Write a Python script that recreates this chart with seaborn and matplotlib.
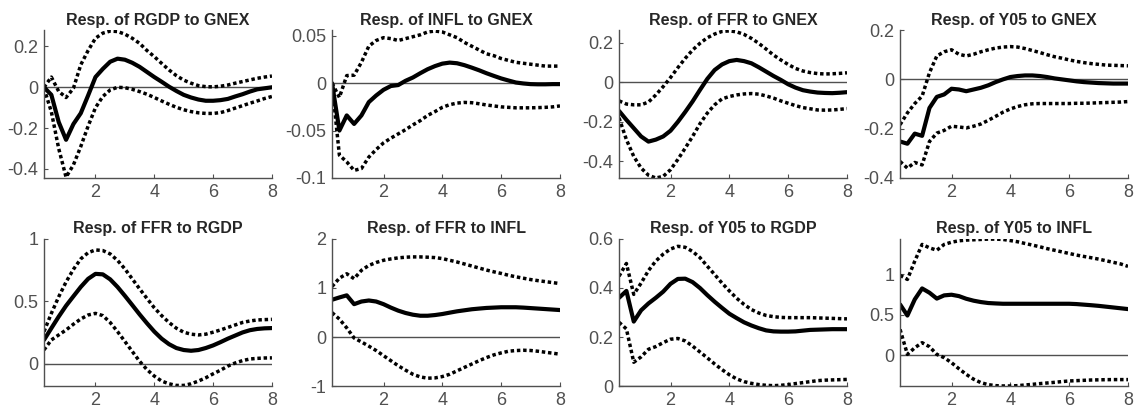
import matplotlib
matplotlib.use("Agg")
import matplotlib.pyplot as plt
import numpy as np
import seaborn as sns

# horizons in years (quarterly steps, 32 quarters)
quarters = np.arange(1, 33)
horizon = quarters / 4

titles = ["Resp. of RGDP to GNEX", "Resp. of INFL to GNEX", "Resp. of FFR to GNEX", "Resp. of Y05 to GNEX",
          "Resp. of FFR to RGDP", "Resp. of FFR to INFL", "Resp. of Y05 to RGDP", "Resp. of Y05 to INFL"]

rgdp_gnex = [0.0, -0.037, -0.17, -0.257, -0.18, -0.127, -0.04, 0.05, 0.09, 0.125,
             0.14, 0.135, 0.12, 0.10, 0.075, 0.05, 0.027, 0.003, -0.018, -0.037,
             -0.05, -0.06, -0.066, -0.066, -0.063, -0.057, -0.045, -0.034, -0.021, -0.01,
             -0.005, 0.0]
rgdp_gnex_hi = [0.0, 0.05, -0.02, -0.05, -0.005, 0.11, 0.18, 0.24, 0.265, 0.275,
                0.273, 0.26, 0.24, 0.215, 0.18, 0.15, 0.117, 0.085, 0.057, 0.035,
                0.02, 0.008, 0.003, 0.002, 0.005, 0.011, 0.02, 0.028, 0.036, 0.044,
                0.05, 0.055]
rgdp_gnex_lo = [-0.005, -0.12, -0.30, -0.44, -0.38, -0.29, -0.19, -0.10, -0.045, -0.013,
                0.0, -0.002, -0.01, -0.021, -0.034, -0.05, -0.067, -0.083, -0.098, -0.11,
                -0.119, -0.125, -0.128, -0.128, -0.124, -0.114, -0.102, -0.09, -0.078, -0.067,
                -0.055, -0.045]

infl_gnex = [0.0, -0.05, -0.034, -0.043, -0.034, -0.02, -0.013, -0.007, -0.003, -0.002,
             0.0025, 0.006, 0.0105, 0.0147, 0.018, 0.0206, 0.0217, 0.021, 0.019, 0.0164,
             0.0136, 0.0105, 0.0077, 0.005, 0.0028, 0.0007, -0.0003, -0.001, -0.0012, -0.0012,
             -0.001, -0.001]
infl_gnex_hi = [0.0, -0.015, 0.008, 0.0084, 0.022, 0.039, 0.045, 0.048, 0.047, 0.045,
                0.047, 0.049, 0.051, 0.054, 0.055, 0.054, 0.051, 0.048, 0.043, 0.039,
                0.035, 0.031, 0.029, 0.026, 0.024, 0.022, 0.021, 0.020, 0.019, 0.018,
                0.018, 0.018]
infl_gnex_lo = [-0.001, -0.076, -0.083, -0.092, -0.09, -0.078, -0.07, -0.063, -0.058, -0.0535,
                -0.049, -0.044, -0.0395, -0.034, -0.03, -0.0255, -0.0227, -0.021, -0.0203, -0.0206,
                -0.0217, -0.023, -0.024, -0.025, -0.0255, -0.026, -0.026, -0.026, -0.0258, -0.0255,
                -0.025, -0.024]

ffr_gnex = [-0.145, -0.19, -0.232, -0.274, -0.30, -0.29, -0.274, -0.245, -0.2, -0.15,
            -0.097, -0.039, 0.017, 0.062, 0.09, 0.107, 0.113, 0.107, 0.096, 0.076,
            0.054, 0.032, 0.012, -0.01, -0.027, -0.04, -0.047, -0.052, -0.054, -0.055,
            -0.053, -0.05]
ffr_gnex_hi = [-0.094, -0.11, -0.114, -0.114, -0.1, -0.064, -0.022, 0.024, 0.074, 0.121,
               0.163, 0.197, 0.225, 0.244, 0.257, 0.26, 0.255, 0.242, 0.222, 0.197,
               0.168, 0.138, 0.113, 0.09, 0.07, 0.057, 0.049, 0.044, 0.042, 0.043,
               0.045, 0.048]
ffr_gnex_lo = [-0.18, -0.29, -0.375, -0.434, -0.47, -0.484, -0.476, -0.442, -0.39, -0.333,
               -0.274, -0.21, -0.156, -0.114, -0.084, -0.072, -0.064, -0.059, -0.057, -0.06,
               -0.069, -0.08, -0.094, -0.106, -0.118, -0.128, -0.134, -0.14, -0.141, -0.14,
               -0.137, -0.133]

y05_gnex = [-0.252, -0.261, -0.22, -0.229, -0.116, -0.071, -0.061, -0.038, -0.041, -0.048,
            -0.041, -0.034, -0.024, -0.011, 0.0, 0.0095, 0.0136, 0.016, 0.016, 0.0136,
            0.0095, 0.004, 0.0, -0.004, -0.008, -0.011, -0.013, -0.015, -0.016, -0.017,
            -0.017, -0.017]
y05_gnex_hi = [-0.184, -0.136, -0.098, -0.068, 0.027, 0.095, 0.112, 0.12, 0.102, 0.095,
               0.102, 0.112, 0.12, 0.127, 0.131, 0.133, 0.131, 0.125, 0.117, 0.109,
               0.1, 0.092, 0.086, 0.079, 0.073, 0.068, 0.064, 0.061, 0.058, 0.057,
               0.056, 0.055]
y05_gnex_lo = [-0.333, -0.36, -0.337, -0.347, -0.252, -0.218, -0.207, -0.19, -0.193, -0.197,
               -0.19, -0.181, -0.166, -0.15, -0.133, -0.12, -0.11, -0.103, -0.099, -0.098,
               -0.098, -0.098, -0.098, -0.098, -0.097, -0.097, -0.096, -0.095, -0.094, -0.093,
               -0.092, -0.09]

ffr_rgdp = [0.19, 0.284, 0.377, 0.464, 0.54, 0.615, 0.68, 0.72, 0.716, 0.676,
            0.615, 0.544, 0.47, 0.395, 0.324, 0.257, 0.2, 0.156, 0.125, 0.109,
            0.103, 0.109, 0.125, 0.146, 0.172, 0.2, 0.225, 0.25, 0.268, 0.278,
            0.283, 0.285]
ffr_rgdp_hi = [0.257, 0.403, 0.536, 0.655, 0.756, 0.84, 0.89, 0.912, 0.907, 0.88,
               0.828, 0.76, 0.68, 0.6, 0.523, 0.448, 0.385, 0.33, 0.284, 0.252,
               0.236, 0.23, 0.236, 0.252, 0.27, 0.29, 0.31, 0.33, 0.342, 0.35,
               0.353, 0.355]
ffr_rgdp_lo = [0.11, 0.19, 0.23, 0.27, 0.316, 0.358, 0.39, 0.403, 0.385, 0.33,
               0.257, 0.178, 0.098, 0.019, -0.048, -0.1, -0.14, -0.162, -0.175, -0.175,
               -0.162, -0.14, -0.114, -0.082, -0.053, -0.02, 0.005, 0.024, 0.037, 0.042,
               0.045, 0.046]

ffr_infl = [0.76, 0.807, 0.85, 0.67, 0.724, 0.745, 0.724, 0.67, 0.6, 0.538,
            0.49, 0.455, 0.434, 0.434, 0.448, 0.469, 0.497, 0.524, 0.545, 0.566,
            0.58, 0.593, 0.6, 0.607, 0.607, 0.607, 0.6, 0.59, 0.58, 0.57,
            0.56, 0.55]
ffr_infl_hi = [1.03, 1.2, 1.29, 1.19, 1.36, 1.46, 1.52, 1.565, 1.593, 1.614,
               1.628, 1.634, 1.634, 1.628, 1.62, 1.6, 1.565, 1.53, 1.49, 1.448,
               1.407, 1.366, 1.33, 1.297, 1.26, 1.228, 1.2, 1.172, 1.15, 1.13,
               1.11, 1.09]
ffr_infl_lo = [0.497, 0.366, 0.186, -0.02, -0.1, -0.186, -0.276, -0.38, -0.483, -0.586,
               -0.676, -0.76, -0.814, -0.84, -0.834, -0.807, -0.76, -0.69, -0.62, -0.552,
               -0.483, -0.42, -0.365, -0.324, -0.29, -0.276, -0.27, -0.275, -0.29, -0.31,
               -0.33, -0.35]

y05_rgdp = [0.36, 0.388, 0.263, 0.309, 0.337, 0.36, 0.385, 0.417, 0.437, 0.438,
            0.424, 0.4, 0.371, 0.344, 0.319, 0.295, 0.277, 0.26, 0.247, 0.236,
            0.227, 0.223, 0.222, 0.222, 0.223, 0.226, 0.229, 0.23, 0.231, 0.232,
            0.232, 0.232]
y05_rgdp_hi = [0.448, 0.5, 0.374, 0.42, 0.471, 0.51, 0.538, 0.559, 0.57, 0.566,
               0.549, 0.524, 0.489, 0.455, 0.42, 0.388, 0.358, 0.333, 0.312, 0.298,
               0.288, 0.283, 0.28, 0.279, 0.279, 0.279, 0.279, 0.278, 0.277, 0.276,
               0.275, 0.274]
y05_rgdp_lo = [0.26, 0.233, 0.097, 0.119, 0.15, 0.161, 0.177, 0.191, 0.194, 0.184,
               0.163, 0.139, 0.115, 0.09, 0.067, 0.046, 0.029, 0.018, 0.011, 0.006,
               0.003, 0.0015, 0.003, 0.006, 0.01, 0.014, 0.018, 0.022, 0.024, 0.025,
               0.026, 0.027]

y05_infl = [0.628, 0.49, 0.69, 0.826, 0.773, 0.70, 0.74, 0.748, 0.731, 0.698,
            0.674, 0.657, 0.645, 0.64, 0.636, 0.636, 0.636, 0.636, 0.636, 0.636,
            0.636, 0.636, 0.636, 0.636, 0.632, 0.625, 0.618, 0.61, 0.6, 0.59,
            0.58, 0.57]
y05_infl_hi = [0.988, 0.938, 1.165, 1.372, 1.33, 1.3, 1.372, 1.4, 1.417, 1.426,
               1.43, 1.434, 1.438, 1.438, 1.434, 1.42, 1.405, 1.384, 1.364, 1.343,
               1.32, 1.3, 1.28, 1.26, 1.24, 1.223, 1.207, 1.19, 1.17, 1.15,
               1.13, 1.1]
y05_infl_lo = [0.318, 0.008, 0.09, 0.153, 0.103, 0.008, -0.033, -0.095, -0.17, -0.24,
               -0.3, -0.343, -0.368, -0.38, -0.384, -0.384, -0.38, -0.372, -0.364, -0.355,
               -0.347, -0.339, -0.33, -0.322, -0.318, -0.314, -0.31, -0.308, -0.306, -0.305,
               -0.305, -0.305]

panels = [(rgdp_gnex, rgdp_gnex_hi, rgdp_gnex_lo), (infl_gnex, infl_gnex_hi, infl_gnex_lo),
          (ffr_gnex, ffr_gnex_hi, ffr_gnex_lo), (y05_gnex, y05_gnex_hi, y05_gnex_lo),
          (ffr_rgdp, ffr_rgdp_hi, ffr_rgdp_lo), (ffr_infl, ffr_infl_hi, ffr_infl_lo),
          (y05_rgdp, y05_rgdp_hi, y05_rgdp_lo), (y05_infl, y05_infl_hi, y05_infl_lo)]

ylims = [(-0.444, 0.28), (-0.1, 0.056), (-0.484, 0.264), (-0.4, 0.2),
         (-0.18, 1.0), (-1, 2), (0, 0.6), (-0.385, 1.44)]
yticks = [[-0.4, -0.2, 0, 0.2], [-0.1, -0.05, 0, 0.05], [-0.4, -0.2, 0, 0.2], [-0.4, -0.2, 0, 0.2],
          [0, 0.5, 1], [-1, 0, 1, 2], [0, 0.2, 0.4, 0.6], [0, 0.5, 1]]

sns.set_style("ticks")
plt.rcParams['font.family'] = ['Liberation Sans', 'DejaVu Sans']
plt.rcParams['axes.unicode_minus'] = False

axcol = "#505050"
fig = plt.figure(figsize=(11.34, 4.12), dpi=100)
lefts = [0.0388, 0.2928, 0.5459, 0.7937]
rows = [(0.568, 0.359), (0.063, 0.357)]

for i, (mid, hi, lo) in enumerate(panels):
    b, h = rows[i // 4]
    ax = fig.add_axes([lefts[i % 4], b, 0.201, h])
    ax.axhline(0, color=axcol, lw=1.0, zorder=1)
    sns.lineplot(x=horizon, y=hi, ax=ax, color="black", linewidth=2.5, linestyle=(0, (1, 0.8)))
    sns.lineplot(x=horizon, y=lo, ax=ax, color="black", linewidth=2.5, linestyle=(0, (1, 0.8)))
    sns.lineplot(x=horizon, y=mid, ax=ax, color="black", linewidth=3.0)
    ax.set_xlim(0.25, 8)
    ax.set_ylim(*ylims[i])
    ax.set_xticks([2, 4, 6, 8])
    ax.set_yticks(yticks[i])
    ax.set_yticklabels([f"{v:g}" for v in yticks[i]])
    ax.tick_params(direction="in", length=3, width=0.8, colors=axcol, labelsize=13, pad=4)
    for s in ["top", "right"]:
        ax.spines[s].set_visible(False)
    for s in ["left", "bottom"]:
        ax.spines[s].set_color(axcol)
        ax.spines[s].set_linewidth(1.0)
    ax.set_title(titles[i], fontsize=11.5, fontweight="bold", pad=4)

fig.savefig("out.png", dpi=100)
